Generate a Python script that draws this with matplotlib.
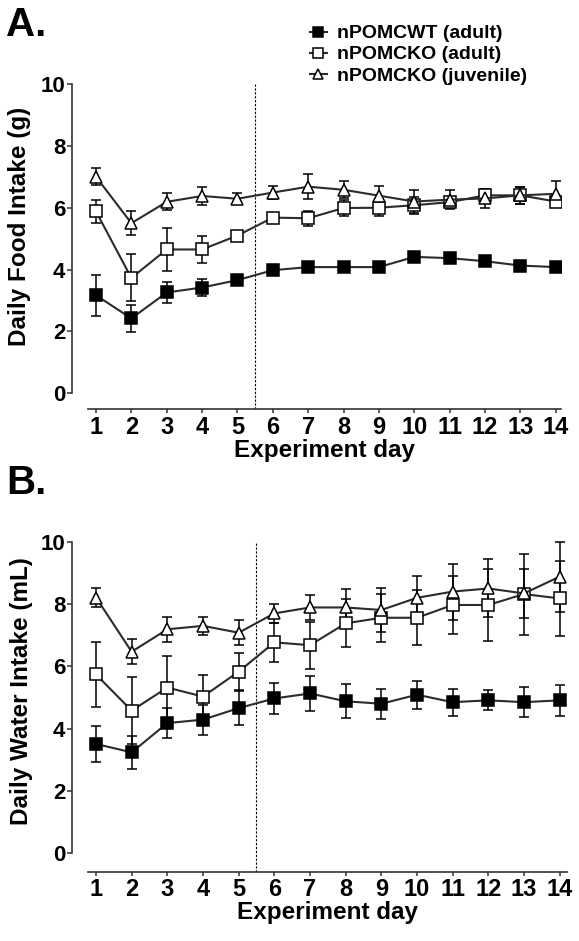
import numpy as np
import matplotlib
matplotlib.use("Agg")
import matplotlib.pyplot as plt

plt.rcParams['font.family'] = ['Liberation Sans', 'DejaVu Sans']
plt.rcParams['font.weight'] = 'bold'

# dados
days = np.arange(1, 15)
series_names = ['nPOMCWT (adult)', 'nPOMCKO (adult)', 'nPOMCKO (juvenile)']

food_wt = [3.17, 2.42, 3.26, 3.42, 3.66, 3.98, 4.08, 4.08, 4.08, 4.41, 4.37, 4.27, 4.13, 4.08]
food_wt_err = [0.67, 0.44, 0.33, 0.28, 0.12, 0.1, 0.1, 0.1, 0.1, 0.1, 0.12, 0.1, 0.1, 0.1]
food_ko = [5.88, 3.73, 4.65, 4.65, 5.10, 5.68, 5.66, 5.99, 6.00, 6.08, 6.18, 6.40, 6.40, 6.20]
food_ko_err = [0.38, 0.76, 0.69, 0.43, 0.1, 0.1, 0.24, 0.27, 0.28, 0.27, 0.12, 0.2, 0.28, 0.12]
food_juv = [7.00, 5.50, 6.19, 6.38, 6.29, 6.49, 6.68, 6.58, 6.39, 6.20, 6.26, 6.30, 6.40, 6.45]
food_juv_err = [0.27, 0.38, 0.28, 0.3, 0.18, 0.2, 0.4, 0.28, 0.3, 0.37, 0.3, 0.3, 0.28, 0.4]

water_wt = [3.51, 3.24, 4.18, 4.29, 4.66, 4.97, 5.13, 4.88, 4.80, 5.09, 4.85, 4.91, 4.85, 4.91]
water_wt_err = [0.58, 0.54, 0.47, 0.48, 0.55, 0.5, 0.57, 0.55, 0.48, 0.45, 0.43, 0.32, 0.48, 0.5]
water_ko = [5.74, 4.58, 5.32, 5.03, 5.83, 6.77, 6.68, 7.38, 7.56, 7.56, 7.97, 7.97, 8.32, 8.18]
water_ko_err = [1.05, 1.07, 1.0, 0.7, 0.6, 0.62, 0.75, 0.77, 0.77, 0.88, 0.93, 1.15, 1.3, 1.2]
water_juv = [8.21, 6.47, 7.19, 7.30, 7.08, 7.70, 7.89, 7.89, 7.81, 8.20, 8.40, 8.50, 8.34, 8.88]
water_juv_err = [0.3, 0.4, 0.4, 0.3, 0.4, 0.3, 0.4, 0.6, 0.7, 0.7, 0.9, 0.93, 0.8, 1.12]

yticks = [0, 2, 4, 6, 8, 10]

W, H = 579, 941
fig = plt.figure(figsize=(W / 100, H / 100), dpi=100)

line_c = '#2b2b2b'
styles = [
    dict(marker='s', ms=8, mfc='black', mec='black'),
    dict(marker='s', ms=8, mfc='white', mec='black'),
    dict(marker='^', ms=9, mfc='white', mec='black'),
]


def panel(rect, xlim, ylim, data):
    ax = fig.add_axes(rect)
    handles = []
    for (y, e), st, name in zip(data, styles, series_names):
        ax.errorbar(days, y, yerr=e, fmt='none', ecolor='black', elinewidth=1.1,
                    capsize=3.6, capthick=1.1, zorder=2)
        h, = ax.plot(days, y, color=line_c, lw=1.5, mew=1.1, zorder=3, label=name, **st)
        handles.append(h)
    # linha tracejada entre o dia 5 e 6
    ax.plot([5.5, 5.5], [ylim[0], 10], color='black', lw=0.8, ls=(0, (2, 1.5)), zorder=1)
    ax.set_xlim(*xlim)
    ax.set_ylim(*ylim)
    ax.set_xticks(days)
    ax.set_yticks(yticks)
    for s in ['top', 'right']:
        ax.spines[s].set_visible(False)
    ax.spines['left'].set_position(('outward', 11.7))
    ax.spines['left'].set_bounds(0, 10)
    for s in ['left', 'bottom']:
        ax.spines[s].set_color('#333333')
        ax.spines[s].set_linewidth(1.2)
    ax.tick_params(axis='y', length=3.6, width=1.1, pad=1, labelsize=16, color='#333333')
    ax.tick_params(axis='x', length=3, width=1.1, pad=1.5, labelsize=17, color='#333333')
    ax.set_xlabel('Experiment day', fontsize=17.5, fontweight='bold', labelpad=0)
    return ax, handles


# painel A
axA, hA = panel([88 / W, 1 - 409.3 / H, (560.7 - 88) / W, 331.5 / H],
                (0.774, 14.14), (-0.517, 10.2),
                [(food_wt, food_wt_err), (food_ko, food_ko_err), (food_juv, food_juv_err)])
fig.text(20 / W, 1 - 226.5 / H, 'Daily Food Intake (g)', rotation=90, ha='center', va='center',
         fontsize=17.5, fontweight='bold')

# painel B
axB, hB = panel([88 / W, 1 - 871.7 / H, (567.3 - 88) / W, 336.2 / H],
                (0.776, 14.214), (-0.59, 10.2),
                [(water_wt, water_wt_err), (water_ko, water_ko_err), (water_juv, water_juv_err)])
fig.text(22 / W, 1 - 691 / H, 'Daily Water Intake (mL)', rotation=90, ha='center', va='center',
         fontsize=17.5, fontweight='bold')

fig.text(6 / W, 1 - 36 / H, 'A.', fontsize=29, fontweight='bold', ha='left', va='baseline')
fig.text(6 / W, 1 - 494 / H, 'B.', fontsize=29, fontweight='bold', ha='left', va='baseline')

fig.legend(handles=hA, loc='upper left', bbox_to_anchor=(300 / W, 1 - 15 / H),
           frameon=False, handlelength=0.9, handletextpad=0.5,
           labelspacing=0.18, borderpad=0, markerscale=0.85,
           prop={'weight': 'bold', 'size': 14})

fig.savefig('out.png', dpi=100)
